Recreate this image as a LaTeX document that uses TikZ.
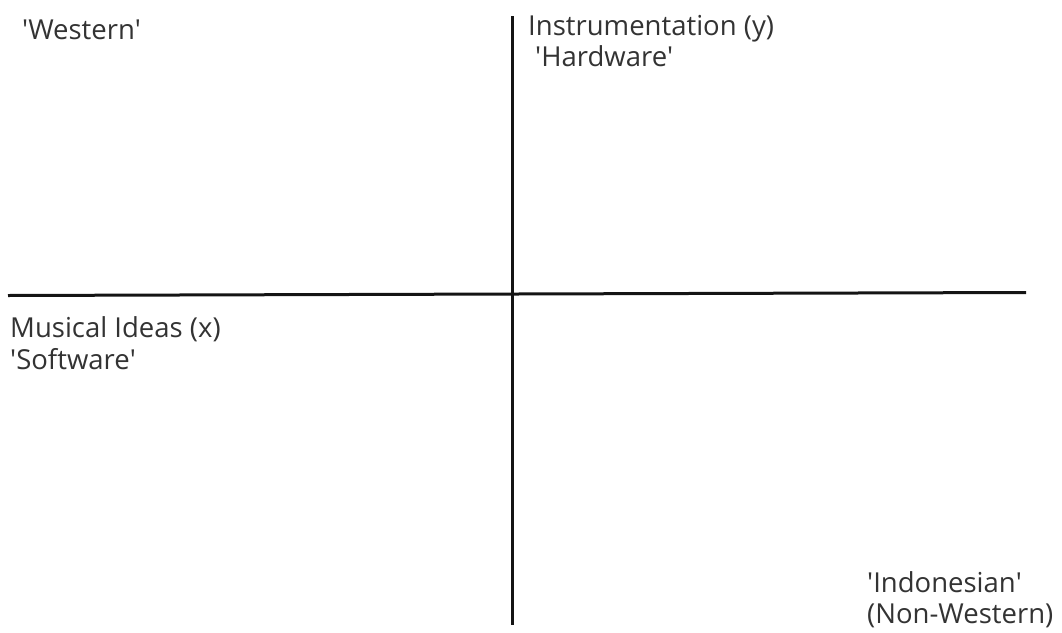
\documentclass[tikz,border=0pt]{standalone}
\usepackage{fontspec}
\setmainfont{Open Sans}
\newcommand\sq{\textquotesingle}
\begin{document}
\begin{tikzpicture}[x=1pt,y=-1pt,
  lbl/.style={anchor=base west,inner sep=0pt,text=black!80,font=\fontsize{27.5}{30}\selectfont},
  axis/.style={line width=3pt,black!92}]
\useasboundingbox (0,0) rectangle (1062,632);
\coordinate (xl) at (8,295.5);
\coordinate (xr) at (1026,292.5);
\coordinate (yt) at (512,16);
\coordinate (yb) at (512,625);
\draw[axis] (xl) -- (xr);
\draw[axis] (yt) -- (yb);
\node[lbl] (west) at (22,39) {\sq Western\sq};
\node[lbl] (instr) at (528,35) {Instrumentation (y)};
\node[lbl] (hard) at (535,66) {\sq Hardware\sq};
\node[lbl] (music) at (10,337) {Musical Ideas (x)};
\node[lbl] (soft) at (10,369) {\sq Software\sq};
\node[lbl] (indo) at (867,592) {\sq Indonesian\sq};
\node[lbl] (nonw) at (867,623) {(Non-Western)};
\end{tikzpicture}
\end{document}
